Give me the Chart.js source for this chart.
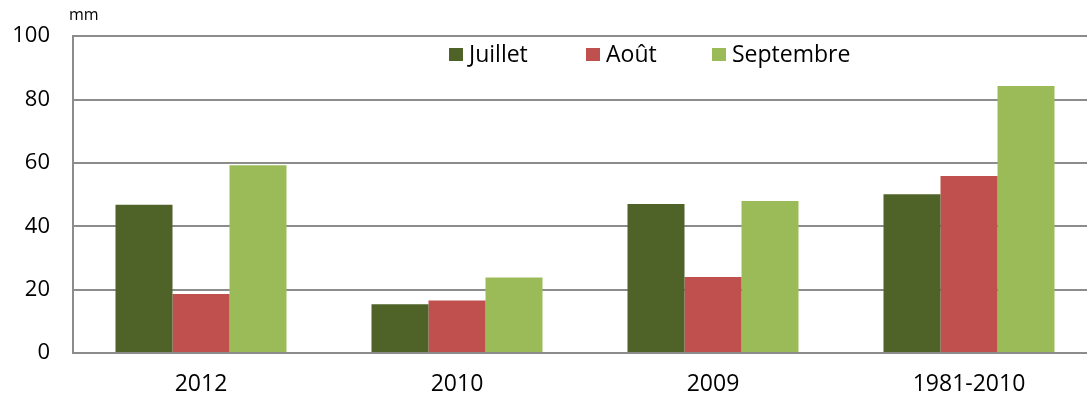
<!DOCTYPE html>
<html>
<head>
<meta charset="utf-8">
<script src="https://cdn.jsdelivr.net/npm/chart.js@4/dist/chart.umd.min.js"></script>
<style>
  html, body { margin: 0; padding: 0; background: #fff; overflow: hidden; }
  #wrap { width: 1100px; height: 400px; position: relative; }
  #unit { position: absolute; left: 69px; top: 3px; font: 16px "Open Sans", sans-serif; color: #000; }
</style>
</head>
<body>
<div id="wrap">
  <canvas id="pluie" width="1100" height="400"></canvas>
  <div id="unit">mm</div>
</div>
<script>
// categories et valeurs (mm)
const periodes = ['2012', '2010', '2009', '1981-2010'];
const juillet = [46.8, 15.4, 47.0, 50.1];
const aout = [18.6, 16.6, 24.0, 55.9];
const septembre = [59.3, 23.8, 48.0, 84.3];
const yTicks = [0, 20, 40, 60, 80, 100];

const FONT = '"Open Sans", "Liberation Sans", sans-serif';

// legende dessinee dans la zone du graphique
const legendInside = {
  id: 'legendInside',
  afterDraw(chart) {
    const ctx = chart.ctx;
    const pos = [449, 586, 712];
    ctx.save();
    ctx.font = '23px ' + FONT;
    ctx.textBaseline = 'middle';
    chart.data.datasets.forEach((ds, i) => {
      ctx.fillStyle = ds.backgroundColor;
      ctx.fillRect(pos[i], 48, 14, 13);
      ctx.fillStyle = '#000';
      ctx.fillText(ds.label, pos[i] + 20, 55);
    });
    ctx.restore();
  }
};

new Chart(document.getElementById('pluie'), {
  type: 'bar',
  data: {
    labels: periodes,
    datasets: [
      { label: 'Juillet', data: juillet, backgroundColor: '#4F6228' },
      { label: 'Août', data: aout, backgroundColor: '#C0504D' },
      { label: 'Septembre', data: septembre, backgroundColor: '#9BBB59' }
    ]
  },
  options: {
    responsive: false,
    animation: false,
    layout: { padding: { top: 33, left: 0, right: 3, bottom: 0 } },
    plugins: { legend: { display: false }, tooltip: { enabled: false } },
    datasets: { bar: { categoryPercentage: 0.668, barPercentage: 1.0 } },
    scales: {
      x: {
        grid: { display: false, drawTicks: false },
        border: { display: true, color: '#8c8c8c', width: 2 },
        ticks: { color: '#000', font: { family: FONT, size: 23 }, padding: 18 },
        afterFit(s) { s.height = 47; }
      },
      y: {
        min: 0, max: 100,
        afterBuildTicks(s) { s.ticks = yTicks.map(v => ({ value: v })); },
        grid: { color: '#8c8c8c', lineWidth: 2, drawTicks: false },
        border: { display: true, color: '#8c8c8c', width: 2 },
        ticks: { color: '#000', font: { family: FONT, size: 22 }, padding: 23 },
        afterFit(s) { s.width = 73; }
      }
    }
  },
  plugins: [legendInside]
});
</script>
</body>
</html>
